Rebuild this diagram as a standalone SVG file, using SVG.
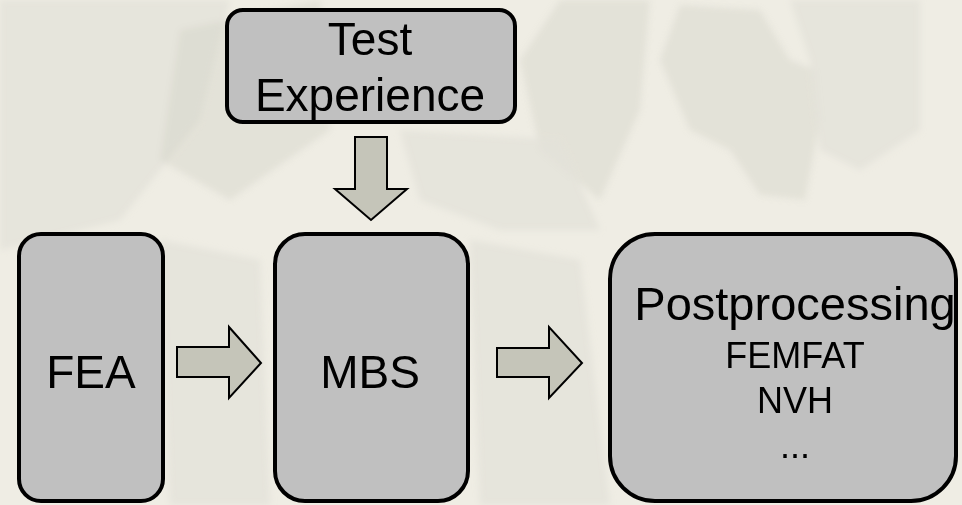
<svg xmlns="http://www.w3.org/2000/svg" width="962" height="505" viewBox="0 0 962 505">
<defs>
<filter id="soft" x="-10%" y="-10%" width="120%" height="120%"><feGaussianBlur stdDeviation="3"/></filter>
</defs>
<style>
.box{fill:#c0c0c0;stroke:#000;stroke-width:4}
.arr{fill:#c5c5b9;stroke:#000;stroke-width:2;stroke-linejoin:miter}
.t{font-family:"Liberation Sans",Arial,sans-serif;fill:#000;text-anchor:middle}
.bg2{fill:#cfcdc3;opacity:0.35}
.bg3{fill:#e4e2d9;opacity:0.8}
</style>
<rect x="0" y="0" width="962" height="505" fill="#efede4"/>
<g id="background-texture" filter="url(#soft)">
<path class="bg3" d="M0 0 L230 0 L200 120 L120 220 L0 250 Z"/>
<path class="bg2" d="M180 30 L320 0 L330 130 L230 200 L160 160 Z"/>
<path class="bg2" d="M680 5 L760 10 L790 60 L815 70 L820 120 L805 200 L760 195 L730 150 L690 130 L660 60 Z"/>
<path class="bg3" d="M790 0 L920 0 L920 130 L860 170 L820 150 L810 60 Z"/>
<path class="bg2" d="M560 0 L650 0 L640 110 L600 200 L540 150 L520 60 Z"/>
<path class="bg3" d="M400 130 L560 140 L600 230 L500 230 L420 200 Z"/>
<path class="bg3" d="M470 240 L580 260 L610 505 L480 505 Z"/>
<path class="bg3" d="M160 240 L260 260 L270 505 L170 505 Z"/>
</g>
<g id="connectors">
<path class="arr" d="M355 137 L387 137 L387 189 L407 189 L371 220 L335 189 L355 189 Z"/>
<path class="arr" d="M177 347 L229 347 L229 327 L261 363 L229 398 L229 377 L177 377 Z"/>
<path class="arr" d="M497 348 L549 348 L549 327 L582 363 L549 398 L549 377 L497 377 Z"/>
</g>
<g id="node-test">
<rect class="box" x="227" y="10" width="288" height="112" rx="16"/>
<text class="t" x="370" y="55" font-size="46">Test</text>
<text class="t" x="370" y="111" font-size="46">Experience</text>
</g>
<g id="node-fea">
<rect class="box" x="19" y="234" width="144" height="267" rx="22"/>
<text class="t" x="91" y="388" font-size="46">FEA</text>
</g>
<g id="node-mbs">
<rect class="box" x="275" y="234" width="193" height="267" rx="30"/>
<text class="t" x="370" y="388" font-size="46">MBS</text>
</g>
<g id="node-post">
<rect class="box" x="610" y="234" width="346" height="267" rx="45"/>
<text class="t" x="795" y="320" font-size="47">Postprocessing</text>
<text class="t" x="795" y="368" font-size="36">FEMFAT</text>
<text class="t" x="795" y="413" font-size="36">NVH</text>
<text class="t" x="795" y="458" font-size="36">...</text>
</g>
</svg>
